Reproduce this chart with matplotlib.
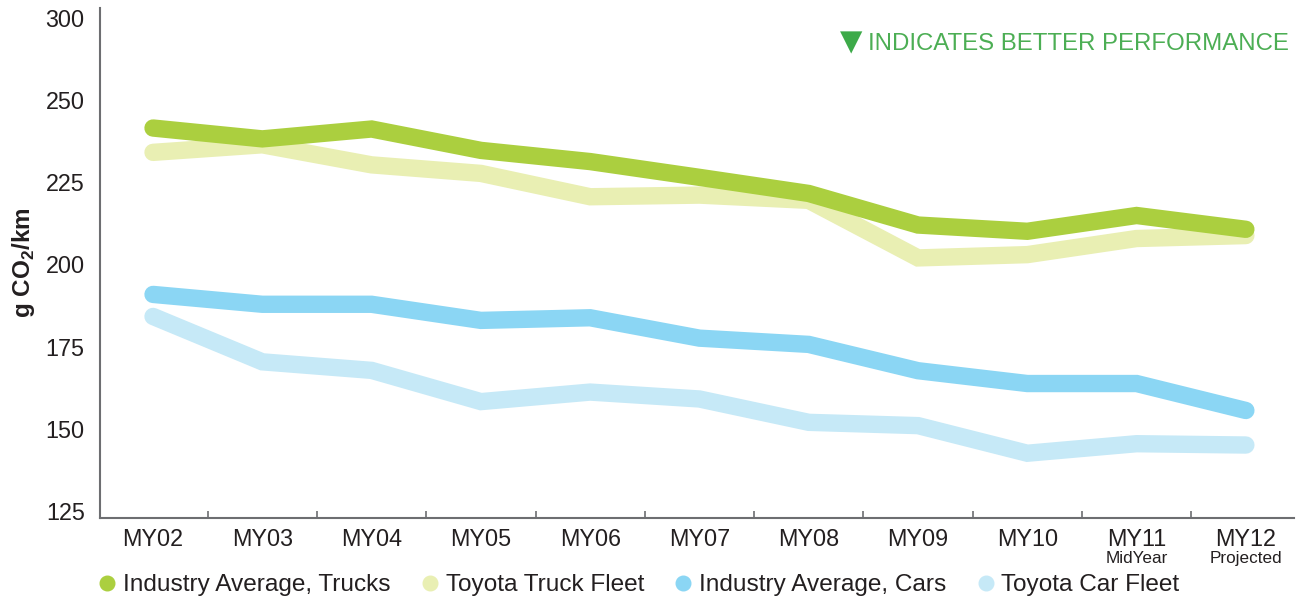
import matplotlib.pyplot as plt
from matplotlib.lines import Line2D
from matplotlib.ticker import FixedLocator, NullFormatter
import matplotlib.transforms as mtransforms

plt.rcParams['font.family'] = ['Liberation Sans', 'DejaVu Sans']
plt.rcParams['mathtext.fontset'] = 'custom'
plt.rcParams['mathtext.rm'] = 'Liberation Sans'
plt.rcParams['mathtext.bf'] = 'Liberation Sans:bold'

# model years and the small notes under the last two
years = ['MY02', 'MY03', 'MY04', 'MY05', 'MY06', 'MY07', 'MY08', 'MY09', 'MY10', 'MY11', 'MY12']
year_notes = ['', '', '', '', '', '', '', '', '', 'MidYear', 'Projected']

# g CO2/km
industry_trucks = [241.5, 238.2, 241.2, 234.7, 231.3, 226.5, 221.6, 212.0, 210.1, 214.9, 210.7]
toyota_trucks = [234.1, 236.4, 230.3, 227.7, 220.6, 221.1, 219.5, 202.0, 203.0, 207.9, 208.8]
industry_cars = [190.9, 187.9, 187.9, 183.0, 183.8, 177.6, 175.7, 167.7, 163.8, 163.8, 155.6]
toyota_cars = [184.2, 170.4, 167.8, 158.3, 161.2, 159.1, 152.0, 151.0, 142.6, 145.5, 145.1]

# the original chart labels its top tick "300" although the spacing says 275
ytick_vals = [125, 150, 175, 200, 225, 250, 275]
ytick_text = ['125', '150', '175', '200', '225', '250', '300']

series = [
    ('Industry Average, Trucks', industry_trucks, '#abcf3f'),
    ('Toyota Truck Fleet', toyota_trucks, '#e9efb3'),
    ('Industry Average, Cars', industry_cars, '#8bd6f4'),
    ('Toyota Car Fleet', toyota_cars, '#c6e9f7'),
]

fig = plt.figure(figsize=(13.04, 6.02), dpi=100)
ax = fig.add_axes([0.0767, 0.1395, 0.9156, 0.8472])

x = list(range(len(years)))
# draw light lines first so the darker industry lines sit on top
for idx in [3, 1, 2, 0]:
    name, vals, col = series[idx]
    ax.plot(x, vals, color=col, linewidth=12.5, solid_capstyle='round',
            solid_joinstyle='miter', zorder=2 + (idx % 2 == 0))

ax.set_xlim(-0.485, 10.44)
ax.set_ylim(122.9, 278.0)

grey = '#6d6e71'
text_col = '#231f20'
ax.spines['top'].set_visible(False)
ax.spines['right'].set_visible(False)
ax.spines['left'].set_color(grey)
ax.spines['bottom'].set_color(grey)
ax.spines['left'].set_linewidth(1.5)
ax.spines['bottom'].set_linewidth(1.5)

ax.set_xticks(x)
ax.set_xticklabels(years, fontsize=16.8, color=text_col)
ax.xaxis.set_minor_locator(FixedLocator([i + 0.5 for i in range(len(years) - 1)]))
ax.xaxis.set_minor_formatter(NullFormatter())
ax.tick_params(axis='x', which='major', length=0, pad=7)
ax.tick_params(axis='x', which='minor', direction='in', length=5, width=1.2, color=grey)

ax.set_yticks(ytick_vals)
ax.set_yticklabels(ytick_text, fontsize=16.8, color=text_col)
ax.tick_params(axis='y', length=0, pad=11)

ax.set_ylabel(r'g CO$_\mathregular{2}$/km', fontsize=17.5, fontweight='bold', color=text_col)
ax.yaxis.set_label_coords(-0.0527, 0.5)

trans = mtransforms.blended_transform_factory(ax.transData, ax.transAxes)
for xi, note in zip(x, year_notes):
    if note:
        ax.text(xi, -0.0645, note, transform=trans, ha='center', va='top',
                fontsize=12.3, color=text_col)

note = ax.text(0.9955, 0.93, 'INDICATES BETTER PERFORMANCE', transform=ax.transAxes,
               ha='right', va='center', fontsize=17.3, color='#4cae54')
ax.annotate('\u25bc', xy=(0, 0.5), xycoords=note, xytext=(-4, 1), textcoords='offset points',
            ha='right', va='center', fontsize=21, color='#3daa49', family=['DejaVu Sans'])

handles = [Line2D([], [], linestyle='none', marker='o', markersize=10.5,
                  markerfacecolor=col, markeredgecolor=col) for _, _, col in series]
fig.legend(handles, [s[0] for s in series], loc='lower left', bbox_to_anchor=(0.058, -0.027),
           ncol=4, frameon=False, fontsize=17.6, handletextpad=0.25, columnspacing=1.2,
           handlelength=0.8, labelcolor=text_col)

fig.savefig('out.png', dpi=100)
